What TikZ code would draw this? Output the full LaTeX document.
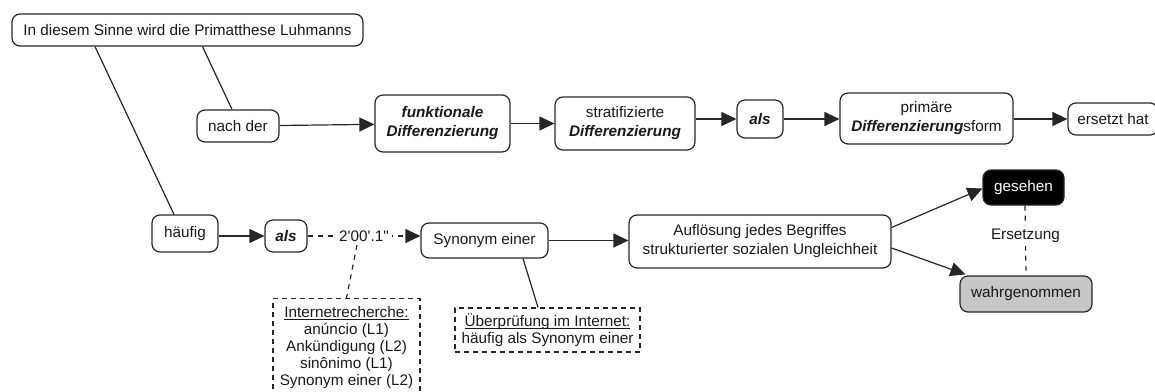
\documentclass[tikz,border=0pt]{standalone}
\usepackage{fontspec}
\newfontfamily\arialfont{Liberation Sans}
\usetikzlibrary{arrows.meta}
\newcommand\myul[1]{\setbox0\hbox{#1}\rlap{\rule[-2.2pt]{\wd0}{0.9pt}}\box0}
\begin{document}
\begin{tikzpicture}[x=1pt,y=-1pt,
  box/.style={draw=black!85, line width=1.2pt, rounded corners=8pt, align=center,
    font=\arialfont\fontsize{15.3}{19}\selectfont, text=black!90, inner sep=0pt},
  note/.style={draw=black!85, line width=1.2pt, dash pattern=on 5pt off 4pt, align=center,
    font=\arialfont\fontsize{15.3}{17}\selectfont, text=black!90, inner sep=0pt},
  conn/.style={draw=black!85, line width=1.2pt},
  tip/.style={-{Triangle[length=15pt,width=14pt]}},
  arr/.style={conn, tip},
  dashconn/.style={conn, dash pattern=on 5pt off 5pt},
  lbl/.style={font=\arialfont\fontsize{15.3}{19}\selectfont, text=black!90, fill=white, inner sep=3pt}
]
\useasboundingbox (0,0) rectangle (1155,391);
\clip (0,0) rectangle (1155,391);

% top row
\node[box, minimum width=351pt, minimum height=32pt] (top) at (187.5,30) {In diesem Sinne wird die Primatthese Luhmanns};
\node[box, minimum width=82pt, minimum height=32pt] (nach) at (238,126) {nach der};
\node[box, minimum width=135pt, minimum height=57pt] (funk) at (442.5,123.5) {\textbf{\textit{funktionale}}\\\textbf{\textit{Differenzierung}}};
\node[box, minimum width=140pt, minimum height=53pt] (strat) at (625,123.5) {stratifizierte\\\textbf{\textit{Differenzierung}}};
\node[box, minimum width=46pt, minimum height=38pt] (alsa) at (760,119) {\textbf{\textit{als}}};
\node[box, minimum width=173pt, minimum height=51pt] (prim) at (926.5,118.5) {primäre\\\textbf{\textit{Differenzierung}}sform};
\node[box, minimum width=90pt, minimum height=32pt] (ers) at (1113,119) {ersetzt hat};

% bottom row
\node[box, minimum width=66pt, minimum height=37pt] (haeufig) at (185,233.5) {häufig};
\node[box, minimum width=42pt, minimum height=32pt] (alsb) at (286,236) {\textbf{\textit{als}}};
\node[box, minimum width=127pt, minimum height=35pt] (syn) at (484.5,240.5) {Synonym einer};
\node[box, minimum width=262pt, minimum height=53pt] (auf) at (760,241.5) {Auflösung jedes Begriffes\\strukturierter sozialen Ungleichheit};
\node[box, fill=black, text=white, minimum width=81pt, minimum height=35pt] (ges) at (1023.5,187.5) {gesehen};
\node[box, fill=black!22, minimum width=132pt, minimum height=36pt] (wahr) at (1026,294) {wahrgenommen};

% notes
\node[note, anchor=north, minimum width=147pt, inner ysep=8pt] (inet) at (346.5,298)
  {\myul{Internetrecherche:}\\anúncio (L1)\\Ankündigung (L2)\\sinônimo (L1)\\Synonym einer (L2)\\[4pt]};
\node[note, minimum width=185pt, minimum height=44pt] (ueber) at (547.5,330)
  {\myul{Überprüfung im Internet:}\\häufig als Synonym einer};

% connectors
\draw[conn] ([xshift=15pt]top.south) -- ([xshift=-6pt]nach.north);
\draw[conn] ([xshift=-92.5pt]top.south) -- ([xshift=-11pt]haeufig.north);
\draw[arr] (nach) -- (funk);
\draw[arr] (funk.east |- strat.west) -- (strat.west);
\draw[arr] (strat.east |- alsa.west) -- (alsa.west);
\draw[arr] (alsa) -- (prim.west |- alsa.east);
\draw[arr] (prim.east |- ers.west) -- (ers.west);
\draw[arr] (haeufig.east |- alsb.west) -- (alsb.west);
\draw[dashconn, tip] (alsb.east) -- node[lbl] (t) {2'00'.1"} (syn.west |- alsb.east);
\draw[dashconn] ([xshift=-7pt]t.south) -- (inet.north);
\draw[arr] (syn.east) -- (auf.west |- syn.east);
\draw[conn] ([xshift=38.5pt]syn.south) -- ([xshift=-9.5pt]ueber.north);
\draw[arr] ([yshift=14pt]auf.east) -- ([yshift=-1pt]ges.west);
\draw[arr] ([yshift=-6.5pt]auf.east) -- ([xshift=6pt,yshift=1pt]wahr.north west);
\draw[dashconn] ([xshift=1.5pt]ges.south) -- node[lbl, pos=0.44] (ersz) {Ersetzung} (wahr.north);
\end{tikzpicture}
\end{document}
